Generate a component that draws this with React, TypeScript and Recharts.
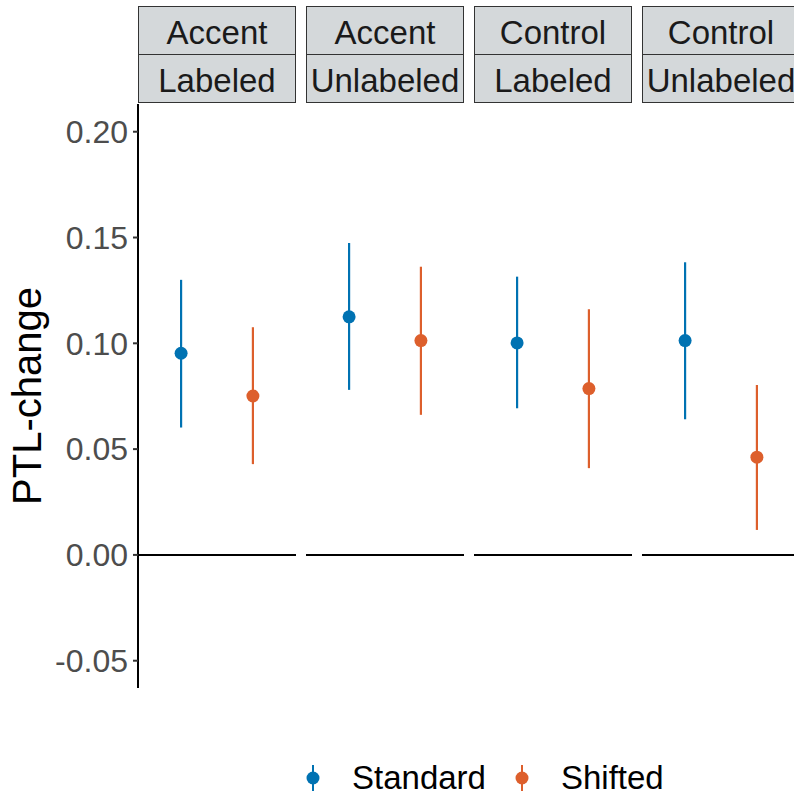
import {
  ComposedChart,
  Scatter,
  ErrorBar,
  XAxis,
  YAxis,
  ReferenceLine,
} from "recharts";

const facetTop = ["Accent", "Accent", "Control", "Control"];
const facetBottom = ["Labeled", "Unlabeled", "Labeled", "Unlabeled"];
const seriesNames = ["Standard", "Shifted"];
const seriesColors = ["#0072B2", "#DD5F2C"];

const standardMean = [0.0953, 0.1125, 0.1002, 0.1013];
const standardLow = [0.0602, 0.078, 0.0693, 0.0641];
const standardHigh = [0.13, 0.1474, 0.1315, 0.1383];

const shiftedMean = [0.0751, 0.1013, 0.0786, 0.0462];
const shiftedLow = [0.0429, 0.0662, 0.041, 0.0118];
const shiftedHigh = [0.1076, 0.1362, 0.1161, 0.0803];

const yTicks = [-0.05, 0, 0.05, 0.1, 0.15, 0.2];
const yDomain = [-0.0629, 0.2131];

const FONT = "'Liberation Sans', Arial, sans-serif";
const PLOT_TOP = 104;
const PLOT_BOTTOM = 688;
const PANEL_W = 158;
const panelLeft = [138, 306, 474, 642];

const makePoint = (x: number, y: number, lo: number, hi: number) => [
  { x, y, err: [y - lo, hi - y] },
];

const Dot = (color: string) => (props: any) =>
  <circle cx={props.cx} cy={props.cy} r={6.5} fill={color} />;

const Panel = ({ i }: { i: number }) => {
  const first = i === 0;
  const std = makePoint(1, standardMean[i], standardLow[i], standardHigh[i]);
  const sh = makePoint(2, shiftedMean[i], shiftedLow[i], shiftedHigh[i]);
  const yw = first ? 138 : 0;
  return (
    <div
      style={{
        position: "absolute",
        left: panelLeft[i] - yw,
        top: 0,
      }}
    >
      <ComposedChart
        width={PANEL_W + yw}
        height={700}
        margin={{ top: PLOT_TOP, right: 0, bottom: 700 - PLOT_BOTTOM, left: 0 }}
      >
        <XAxis
          dataKey="x"
          type="number"
          domain={[0.4, 2.6]}
          allowDataOverflow
          hide
        />
        <YAxis
          dataKey="y"
          type="number"
          domain={yDomain}
          allowDataOverflow
          ticks={yTicks}
          hide={!first}
          width={yw}
          tickFormatter={(v: number) => v.toFixed(2)}
          axisLine={{ stroke: "#000", strokeWidth: 2 }}
          tickLine={{ stroke: "#333", strokeWidth: 2 }}
          tickSize={5}
          tickMargin={5}
          tick={{ fill: "#4D4D4D", fontSize: 32, fontFamily: FONT }}
        />
        <ReferenceLine y={0} stroke="#000" strokeWidth={2} />
        <Scatter
          name={seriesNames[0]}
          data={std}
          shape={Dot(seriesColors[0])}
          isAnimationActive={false}
        >
          <ErrorBar
            dataKey="err"
            direction="y"
            width={0}
            stroke={seriesColors[0]}
            strokeWidth={2.2}
            isAnimationActive={false}
          />
        </Scatter>
        <Scatter
          name={seriesNames[1]}
          data={sh}
          shape={Dot(seriesColors[1])}
          isAnimationActive={false}
        >
          <ErrorBar
            dataKey="err"
            direction="y"
            width={0}
            stroke={seriesColors[1]}
            strokeWidth={2.2}
            isAnimationActive={false}
          />
        </Scatter>
      </ComposedChart>
    </div>
  );
};

const stripCell = {
  height: 48,
  lineHeight: "51px",
  textAlign: "center" as const,
  fontSize: 33,
  color: "#1A1A1A",
  background: "#D4D8DA",
  boxSizing: "border-box" as const,
};

const App = () => {
  return (
    <div
      style={{
        position: "absolute",
        left: 0,
        top: 0,
        width: 794,
        height: 798,
        overflow: "hidden",
        background: "#fff",
        fontFamily: FONT,
      }}
    >
      {facetTop.map((t, i) => (
        <div
          key={"strip" + i}
          style={{
            position: "absolute",
            left: panelLeft[i],
            top: 6,
            width: PANEL_W,
            border: "1.5px solid #333",
            boxSizing: "border-box",
            whiteSpace: "nowrap",
          }}
        >
          <div style={{ ...stripCell, borderBottom: "1.5px solid #333" }}>{t}</div>
          <div style={{ ...stripCell, height: 47 }}>{facetBottom[i]}</div>
        </div>
      ))}

      {facetTop.map((_, i) => (
        <Panel key={"panel" + i} i={i} />
      ))}

      <div
        style={{
          position: "absolute",
          left: 27,
          top: 396,
          transform: "translate(-50%, -50%) rotate(-90deg)",
          fontSize: 40,
          color: "#000",
          whiteSpace: "nowrap",
        }}
      >
        PTL-change
      </div>

      <div
        style={{
          position: "absolute",
          top: 760,
          left: 303,
          height: 36,
          display: "flex",
          alignItems: "center",
          fontSize: 33,
          color: "#000",
        }}
      >
        {seriesNames.map((n, k) => (
          <div
            key={n}
            style={{ display: "flex", alignItems: "center", marginRight: 26 }}
          >
            <svg width={20} height={28}>
              <line x1={10} x2={10} y1={1} y2={27} stroke={seriesColors[k]} strokeWidth={2} />
              <circle cx={10} cy={14} r={6.5} fill={seriesColors[k]} />
            </svg>
            <span style={{ marginLeft: 29 }}>{n}</span>
          </div>
        ))}
      </div>
    </div>
  );
};

export default App;
